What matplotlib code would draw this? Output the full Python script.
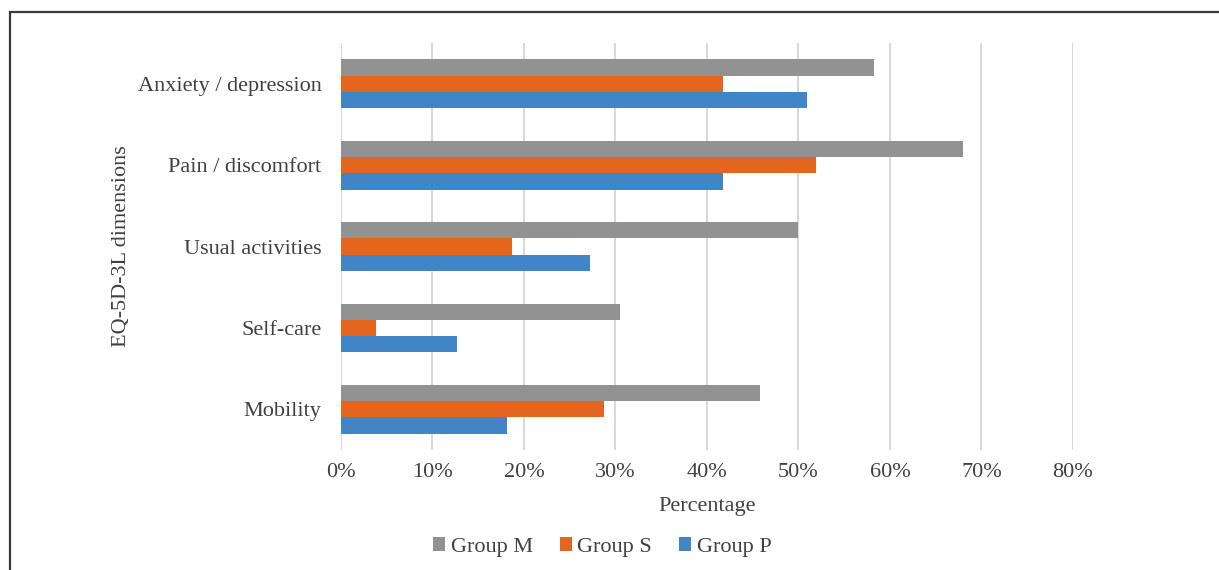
import matplotlib.pyplot as plt
import numpy as np
from matplotlib.patches import Rectangle
from matplotlib.ticker import PercentFormatter

dimensions = ["Mobility", "Self-care", "Usual activities", "Pain / discomfort", "Anxiety / depression"]
group_m = [45.8, 30.5, 50.0, 68.0, 58.3]
group_s = [28.8, 3.8, 18.7, 51.9, 41.7]
group_p = [18.1, 12.7, 27.2, 41.8, 50.9]
series_names = ["Group M", "Group S", "Group P"]
colors = ["#929292", "#E4651E", "#4285C7"]

plt.rcParams["font.family"] = ["Liberation Serif", "DejaVu Serif"]
plt.rcParams["font.size"] = 16

fig = plt.figure(figsize=(12.19, 5.70), dpi=100)
ax = fig.add_axes([0.2797, 0.2105, 0.6005, 0.714])

y = np.arange(len(dimensions))
h = 0.2
for vals, name, color, off in zip([group_m, group_s, group_p], series_names, colors, [h, 0, -h]):
    ax.barh(y + off, vals, height=h, color=color, label=name, zorder=3)

ax.set_xlim(0, 80)
ax.set_ylim(-0.5, 4.5)
ax.set_xticks(np.arange(0, 81, 10))
ax.xaxis.set_major_formatter(PercentFormatter(decimals=0))
ax.set_yticks(y)
ax.set_yticklabels(dimensions)
ax.grid(axis="x", color="#D9D9D9", linewidth=1.5, zorder=0)
for s in ax.spines.values():
    s.set_visible(False)
ax.tick_params(length=0, colors="#404040", labelcolor="#404040")
ax.tick_params(axis="y", pad=14)
ax.tick_params(axis="x", pad=9)
ax.set_xlabel("Percentage", color="#404040", labelpad=11)
ax.set_ylabel("EQ-5D-3L dimensions", color="#404040", labelpad=5)

handles, labels = ax.get_legend_handles_labels()
fig.legend(handles, labels, loc="center", bbox_to_anchor=(0.494, 0.04), ncol=3, frameon=False,
           handlelength=0.55, handleheight=0.55, handletextpad=0.25, columnspacing=1.2,
           labelcolor="#404040")

fig.patches.append(Rectangle((10 / 1219, -0.2), 1.5, 1.2 - 12 / 570, transform=fig.transFigure,
                             fill=False, edgecolor="#3a3a3a", linewidth=1.6))

fig.savefig("out.png", dpi=100)
